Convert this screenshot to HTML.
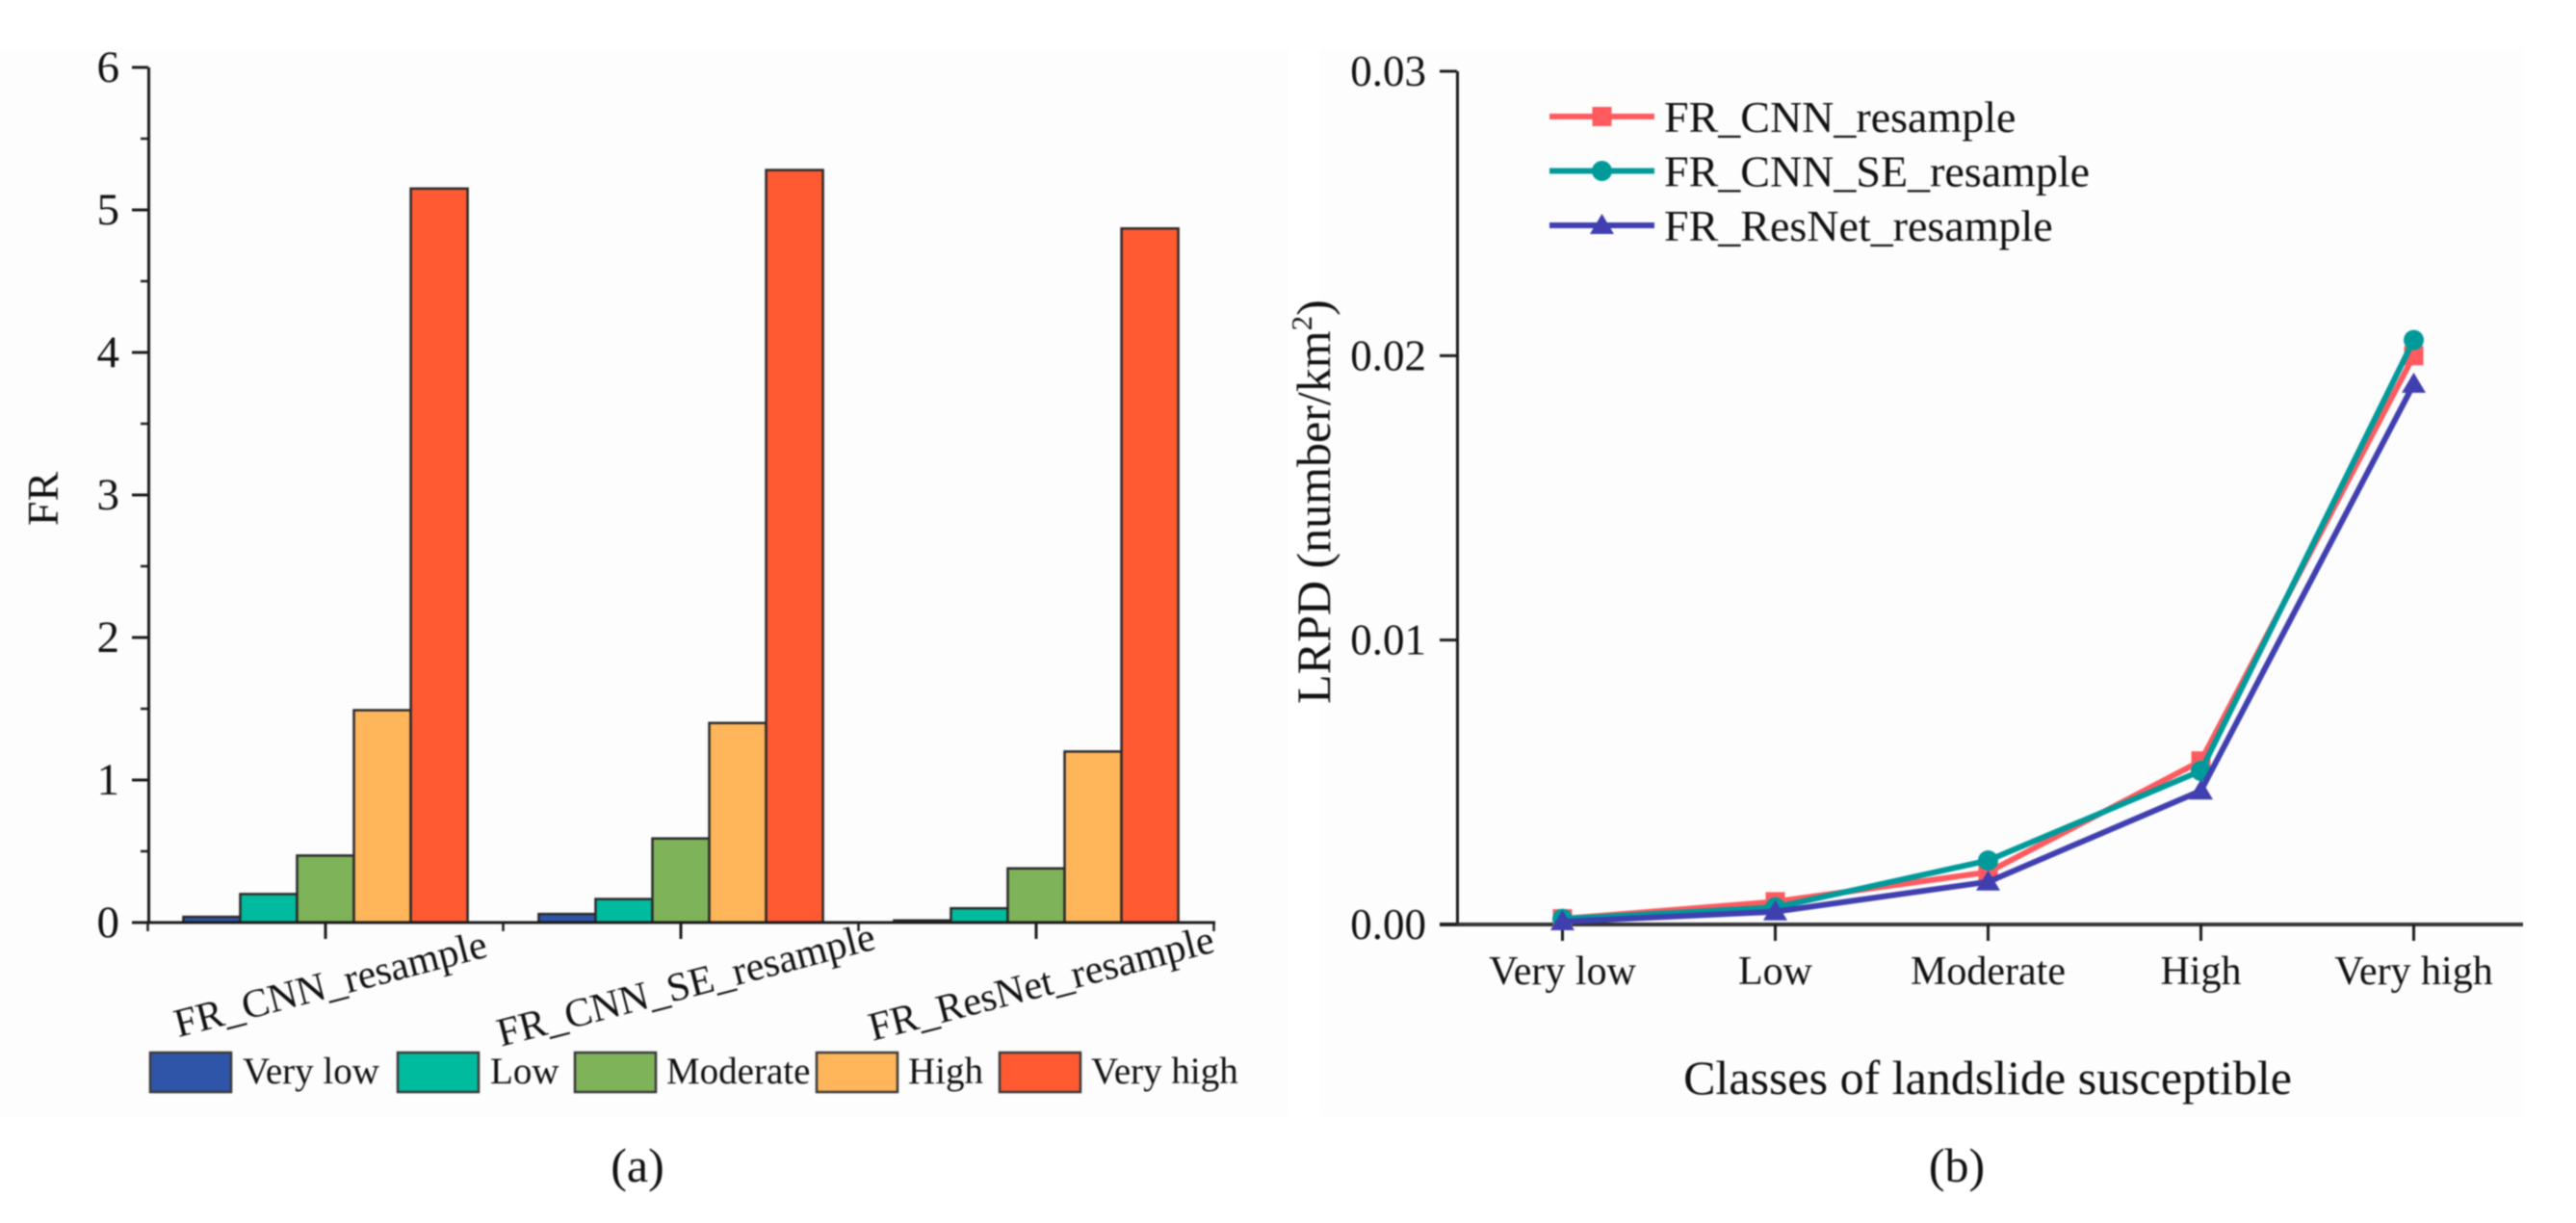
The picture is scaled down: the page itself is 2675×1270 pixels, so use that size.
<!DOCTYPE html>
<html lang="en">
<head>
<meta charset="utf-8">
<title>FR and LRPD by landslide susceptibility class</title>
<style>
html,body{margin:0;padding:0;background:#fff;}
#figure{display:block;width:2675px;height:1270px;font-family:"Liberation Serif",serif;fill:#111;filter:blur(0.7px);}
</style>
</head>
<body>
<svg id="figure" xmlns="http://www.w3.org/2000/svg" width="2675" height="1270" viewBox="0 0 2675 1270">
  <rect x="0" y="0" width="2675" height="1270" fill="#ffffff"/>
  <rect x="0" y="50" width="1338" height="1110" fill="#fdfdfd"/>
  <rect x="1370" y="50" width="1250" height="1110" fill="#fdfdfd"/>
  <g id="panelA"></g>
  <g id="panelB"></g>
  <text transform="translate(60 518) rotate(-90)" text-anchor="middle" font-size="46">FR</text>
  <text transform="translate(1381 521) rotate(-90)" text-anchor="middle" font-size="50">LRPD (number/km<tspan font-size="31" dy="-19">2</tspan><tspan dy="19">)</tspan></text>
  <text x="2064" y="1136" text-anchor="middle" font-size="50">Classes of landslide susceptible</text>
  <text x="662" y="1227" text-anchor="middle" font-size="50">(a)</text>
  <text x="2032" y="1227" text-anchor="middle" font-size="50">(b)</text>
</svg>
<script>
const barGroups = ['FR_CNN_resample', 'FR_CNN_SE_resample', 'FR_ResNet_resample'];
const barClasses = ['Very low', 'Low', 'Moderate', 'High', 'Very high'];
const frVeryLow = [0.04, 0.06, 0.015];
const frLow = [0.20, 0.165, 0.10];
const frModerate = [0.47, 0.59, 0.38];
const frHigh = [1.49, 1.40, 1.20];
const frVeryHigh = [5.15, 5.28, 4.87];
const barTicks = [0, 1, 2, 3, 4, 5, 6];
const barMinorTicks = [0.5, 1.5, 2.5, 3.5, 4.5, 5.5];

const lineClasses = ['Very low', 'Low', 'Moderate', 'High', 'Very high'];
const lrpdCnn = [0.0002, 0.0008, 0.00184, 0.00575, 0.0200];
const lrpdCnnSe = [0.0002, 0.0006, 0.00225, 0.0054, 0.02055];
const lrpdResNet = [0.0001, 0.00045, 0.0015, 0.0047, 0.0190];
const lineTicks = ['0.00', '0.01', '0.02', '0.03'];
const lineSeriesNames = ['FR_CNN_resample', 'FR_CNN_SE_resample', 'FR_ResNet_resample'];

const NS = 'http://www.w3.org/2000/svg';
function make(parent, tag, attrs, text) {
  const e = document.createElementNS(NS, tag);
  for (const k in attrs) e.setAttribute(k, attrs[k]);
  if (text !== undefined) e.textContent = text;
  parent.appendChild(e);
  return e;
}
const AXIS = '#1a1a1a';

/* ---------- panel (a) ---------- */
const pa = document.getElementById('panelA');
const barSeries = [frVeryLow, frLow, frModerate, frHigh, frVeryHigh];
const barColors = ['#2f55a8', '#00bb9e', '#7fb35a', '#ffb55a', '#ff5a32'];
const yA = v => 958 - v * 148;
const xA = c => 338 + (c - 1) * 369;      // c is a 1-based category position
const barW = 369 * 0.16;

barSeries.forEach((vals, s) => {
  vals.forEach((v, g) => {
    const left = xA(g + 1) + (s - 2.5) * barW;
    const r = make(pa, 'rect', {x: left, y: yA(v), width: barW, height: yA(0) - yA(v), fill: barColors[s], stroke: '#2a2a2a', 'stroke-width': 2.5});
    
    
  });
});

const axA = make(pa, 'path', {d: 'M154.5 ' + yA(6) + 'V' + (yA(0) + 1.5), stroke: AXIS, 'stroke-width': 3, fill: 'none'});


const axAx = make(pa, 'path', {d: 'M137 ' + yA(0) + 'H1262', stroke: AXIS, 'stroke-width': 3, fill: 'none'});



barTicks.forEach(t => {
  const m = make(pa, 'path', {d: 'M137 ' + yA(t) + 'H154', stroke: AXIS, 'stroke-width': 3});
  
  
  const l = make(pa, 'text', {x: 124, y: yA(t) + 15, 'text-anchor': 'end', 'font-size': 47}, String(t));
  
  
});
barMinorTicks.forEach(t => {
  const m = make(pa, 'path', {d: 'M146 ' + yA(t) + 'H154', stroke: AXIS, 'stroke-width': 2.5});
  
  
});
const labelEndX = [508, 911, 1263];
const labelEndY = [993, 985, 988];
barGroups.forEach((g, i) => {
  const cx = xA(i + 1);
  const m = make(pa, 'path', {d: 'M' + cx + ' ' + yA(0) + 'v17', stroke: AXIS, 'stroke-width': 3});
  
  
  const l = make(pa, 'text', {transform: 'translate(' + labelEndX[i] + ' ' + labelEndY[i] + ') rotate(-14.6)', 'text-anchor': 'end', 'font-size': 42}, g);
  
  
});
barGroups.concat(['end']).forEach((g, i) => {
  const m2 = make(pa, 'path', {d: 'M' + (xA(i + 1) - 184.5) + ' ' + yA(0) + 'v9', stroke: AXIS, 'stroke-width': 2.5});
  
  
});

const legendSwatchX = [156, 413, 597, 848, 1038];
const legendTextX = [252, 509, 692, 943, 1133];
barClasses.forEach((c, i) => {
  const r = make(pa, 'rect', {x: legendSwatchX[i], y: 1093, width: 84, height: 41, fill: barColors[i], stroke: '#3a3a3a', 'stroke-width': 2.5});
  
  
  const t = make(pa, 'text', {x: legendTextX[i], y: 1125, 'font-size': 39}, c);
  
  
});

/* ---------- panel (b) ---------- */
const pb = document.getElementById('panelB');
const lineSeries = [lrpdCnn, lrpdCnnSe, lrpdResNet];
const lineColors = ['#ff5a5f', '#009a9a', '#3f3fb0'];
const yB = v => 960 - v * (960 - 74) / 0.03;
const xB = i => 1622.5 + i * 221;

const axB = make(pb, 'path', {d: 'M1513.5 ' + yB(0.03) + 'V' + (yB(0) + 1.5), stroke: AXIS, 'stroke-width': 3, fill: 'none'});


const axBx = make(pb, 'path', {d: 'M1495 ' + yB(0) + 'H2620', stroke: '#333', 'stroke-width': 4, fill: 'none'});



lineTicks.forEach(t => {
  const v = parseFloat(t);
  const m = make(pb, 'path', {d: 'M1495 ' + yB(v) + 'H1513', stroke: AXIS, 'stroke-width': 3});
  
  
  const l = make(pb, 'text', {x: 1481, y: yB(v) + 15, 'text-anchor': 'end', 'font-size': 45}, t);
  
  
});
lineClasses.forEach((c, i) => {
  const m = make(pb, 'path', {d: 'M' + xB(i) + ' ' + yB(0) + 'v17', stroke: AXIS, 'stroke-width': 3});
  
  
  const l = make(pb, 'text', {x: xB(i), y: 1022, 'text-anchor': 'middle', 'font-size': 42}, c);
  
  
});

function drawMarker(parent, s, x, y) {
  if (s === 0) return make(parent, 'rect', {x: x - 10, y: y - 10, width: 20, height: 20, fill: lineColors[0]});
  if (s === 1) return make(parent, 'circle', {cx: x, cy: y, r: 10.5, fill: lineColors[1]});
  return make(parent, 'polygon', {points: (x - 12.5) + ',' + (y + 9) + ' ' + (x + 12.5) + ',' + (y + 9) + ' ' + x + ',' + (y - 12), fill: lineColors[2]});
}

lineSeries.forEach((vals, s) => {
  const pts = vals.map((v, i) => xB(i) + ',' + yB(v)).join(' ');
  const pl = make(pb, 'polyline', {points: pts, fill: 'none', stroke: lineColors[s], 'stroke-width': 6, 'stroke-linejoin': 'round'});
  
  
  vals.forEach((v, i) => {
    const mk = drawMarker(pb, s, xB(i), yB(v));
    
    
  });
});

lineSeriesNames.forEach((n, s) => {
  const ly = 121 + s * 56.5;
  const ln = make(pb, 'path', {d: 'M1609 ' + ly + 'H1718', stroke: lineColors[s], 'stroke-width': 6});
  
  
  const mk = drawMarker(pb, s, 1663.5, ly);
  
  
  const t = make(pb, 'text', {x: 1728, y: ly + 16, 'font-size': 46}, n);
  
  
});
</script>
</body>
</html>
